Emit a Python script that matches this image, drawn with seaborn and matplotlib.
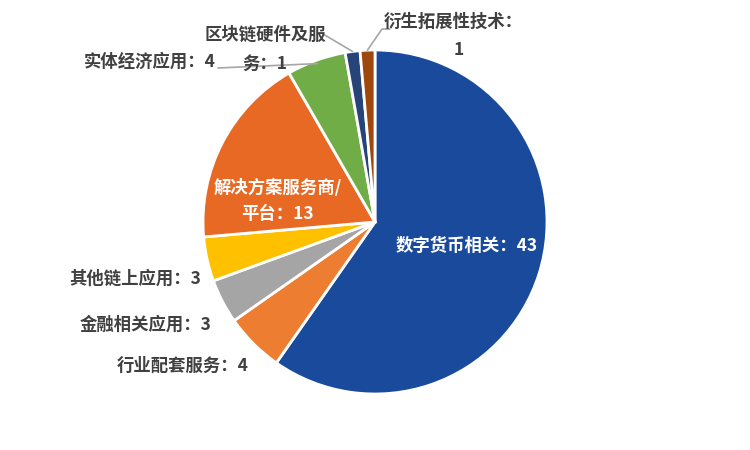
import numpy as np
import matplotlib
matplotlib.use("Agg")
import matplotlib.pyplot as plt
import seaborn as sns

categories = ["数字货币相关", "行业配套服务", "金融相关应用", "其他链上应用",
              "解决方案服务商/平台", "实体经济应用", "区块链硬件及服务", "衍生拓展性技术"]
counts = [43, 4, 3, 3, 13, 4, 1, 1]
colors = ["#1A4A9B", "#ED7D31", "#A5A5A5", "#FFC000",
          "#E86924", "#70AD47", "#264478", "#9E480E"]

sns.set_theme(style="white")
plt.rcParams['font.family'] = ['Noto Sans CJK SC', 'DejaVu Sans']

fig = plt.figure(figsize=(7.5, 4.5), dpi=100)
ax = fig.add_axes([0, 0, 1, 1])

cx, cy, r = 375, 228, 172
wedges, _ = ax.pie(counts, colors=colors, startangle=90, counterclock=False,
                   center=(cx, cy), radius=r, frame=True,
                   wedgeprops=dict(edgecolor="white", linewidth=2))
ax.set_xlim(0, 750)
ax.set_ylim(0, 450)
ax.set_aspect("equal")
ax.axis("off")

txt = "#404040"
kw = dict(fontsize=12.5, fontweight="bold")


def label(text, x, y, color=txt, ha="center", **extra):
    # y given from the top of the picture
    ax.text(x, 450 - y, text, color=color, ha=ha, va="center", **kw, **extra)


def wedge_point(i, frac=1.0):
    w = wedges[i]
    mid = np.deg2rad((w.theta1 + w.theta2) / 2)
    return cx + frac * r * np.cos(mid), cy + frac * r * np.sin(mid)


label(f"{categories[0]}：{counts[0]}", 467, 246, color="white")
label("解决方案服务商/\n平台：13", 278, 201, color="white", linespacing=1.6)
label(f"{categories[3]}：{counts[3]}", 201, 279, ha="right")
label(f"{categories[2]}：{counts[2]}", 212, 325, ha="right")
label(f"{categories[1]}：{counts[1]}", 249, 366, ha="right")

# leader lines
lc = dict(color="#A6A6A6", lw=1.2, zorder=1)
px, py = wedge_point(5, 0.98)
ax.plot([218, px], [450 - 68, py], **lc)
label(f"{categories[5]}：{counts[5]}", 216, 62, ha="right")

px, py = wedge_point(6, 1.0)
ax.plot([323, px], [450 - 34, py], **lc)
label("区块链硬件及服", 265, 35)
label(f"务：{counts[6]}", 265, 64)

px, py = wedge_point(7, 1.0)
ax.plot([px, 382, 390], [py, 450 - 29, 450 - 29], **lc)
label("衍生拓展性技术：", 453, 22)
label(f"{counts[7]}", 459, 50)

fig.savefig("out.png", dpi=100, facecolor="white")
